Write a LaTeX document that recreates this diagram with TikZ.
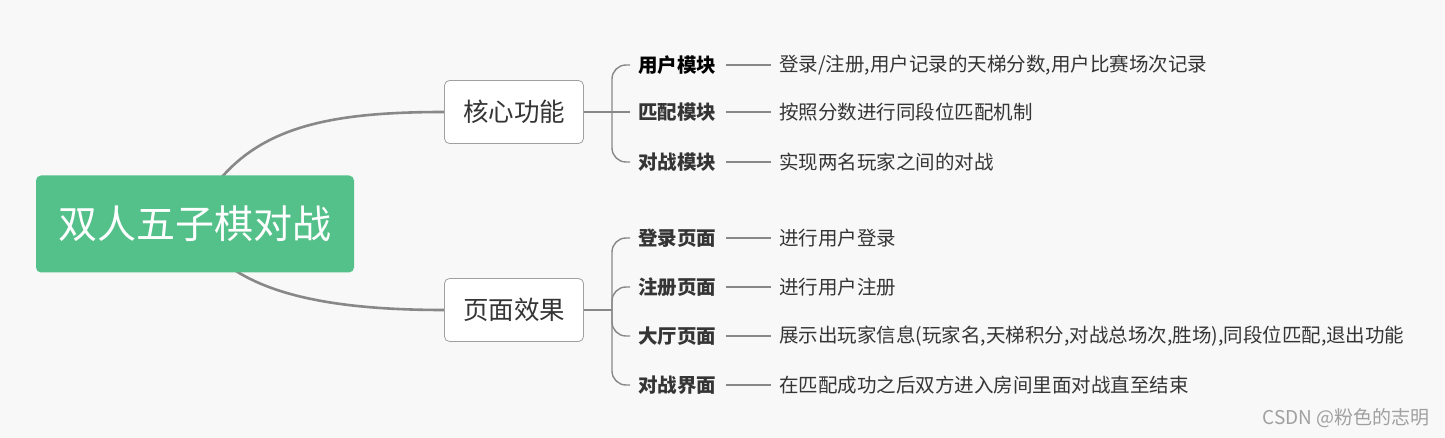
\documentclass[tikz,border=0pt]{standalone}
\usepackage{fontspec}
\setmainfont{Noto Sans CJK SC}
\usetikzlibrary{calc}
\definecolor{bggray}{HTML}{F8F8F8}
\definecolor{rootgreen}{HTML}{55C18A}
\definecolor{linegray}{HTML}{888888}
\definecolor{boxgray}{HTML}{A0A0A0}
\definecolor{textgray}{HTML}{353535}
\definecolor{markgray}{HTML}{A0A0A0}
\pgfdeclarelayer{background}
\pgfsetlayers{background,main}
\tikzset{
  root/.style={fill=rootgreen, text=white, rounded corners=5pt, minimum width=318pt, minimum height=97pt, font=\fontsize{39}{39}\selectfont},
  topic/.style={draw=boxgray, fill=white, line width=0.8pt, rounded corners=5pt, minimum width=139pt, minimum height=63pt, text=textgray, font=\fontsize{25.5}{25.5}\selectfont},
  subtopic/.style={anchor=west, inner sep=0pt, text=textgray, font=\fontsize{19.5}{19.5}\selectfont\bfseries},
  detail/.style={anchor=west, inner sep=0pt, text=textgray, font=\fontsize{19.5}{19.5}\selectfont},
  branch/.style={draw=linegray, line width=2.6pt},
  twig/.style={draw=linegray, line width=1.4pt, rounded corners=14pt, shorten >=8pt},
  link/.style={draw=linegray, line width=1.4pt, shorten <=10pt, shorten >=8pt},
}
\begin{document}
\begin{tikzpicture}[x=1pt, y=-1pt]
    \useasboundingbox (0,0) rectangle (1445,438);
    \node[root] (game) at (195,224) {双人五子棋对战};
    \node[topic] (core) at (514,112) {核心功能};
    \node[topic] (pages) at (514,310) {页面效果};
    \coordinate (corehub) at (612,112);
    \coordinate (pageshub) at (612,310);

    % core modules
    \node[subtopic, text=black] (user) at (638,65) {用户模块};
    \node[subtopic] (match) at (638,112) {匹配模块};
    \node[subtopic] (battle) at (638,162) {对战模块};
    \node[detail] (userinfo) at (779,65) {登录/注册,用户记录的天梯分数,用户比赛场次记录};
    \node[detail] (matchinfo) at (779,112) {按照分数进行同段位匹配机制};
    \node[detail] (battleinfo) at (779,162) {实现两名玩家之间的对战};

    % pages
    \node[subtopic] (login) at (638,238) {登录页面};
    \node[subtopic] (register) at (638,287) {注册页面};
    \node[subtopic] (hall) at (638,336) {大厅页面};
    \node[subtopic] (room) at (638,385) {对战界面};
    \node[detail] (logininfo) at (779,238) {进行用户登录};
    \node[detail] (registerinfo) at (779,287) {进行用户注册};
    \node[detail] (hallinfo) at (779,336) {展示出玩家信息(玩家名,天梯积分,对战总场次,胜场),同段位匹配,退出功能};
    \node[detail] (roominfo) at (779,385) {在匹配成功之后双方进入房间里面对战直至结束};

    \node[anchor=east, inner sep=0pt, text=markgray, font=\fontsize{19}{19}\selectfont] (mark) at (1430,418) {CSDN @粉色的志明};

    \begin{pgfonlayer}{background}
        \fill[bggray] (0,0) rectangle (1445,438);
        \draw[branch] ($(game.center)+(10,-24)$) .. controls +(45,-72) and +(-120,0) .. (core.west);
        \draw[branch] ($(game.center)+(15,26)$) .. controls +(40,42) and +(-120,0) .. (pages.west);
    \end{pgfonlayer}

    \draw[twig] (core.east) -- (match.west);
    \draw[twig] (corehub) |- (user.west);
    \draw[twig] (corehub) |- (battle.west);
    \draw[twig, shorten >=0pt] (pages.east) -- (pageshub);
    \draw[twig] (pageshub) |- (login.west);
    \draw[twig] (pageshub) |- (register.west);
    \draw[twig] (pageshub) |- (hall.west);
    \draw[twig] (pageshub) |- (room.west);

    \draw[link] (user.east) -- (userinfo.west);
    \draw[link] (match.east) -- (matchinfo.west);
    \draw[link] (battle.east) -- (battleinfo.west);
    \draw[link] (login.east) -- (logininfo.west);
    \draw[link] (register.east) -- (registerinfo.west);
    \draw[link] (hall.east) -- (hallinfo.west);
    \draw[link] (room.east) -- (roominfo.west);
\end{tikzpicture}
\end{document}
